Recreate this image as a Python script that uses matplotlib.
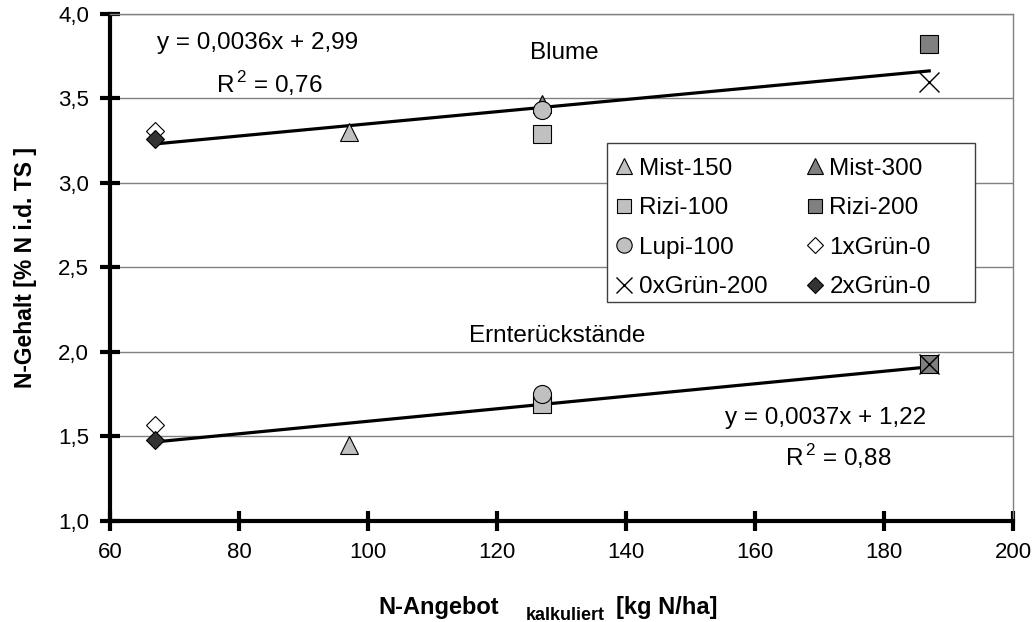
import numpy as np
import matplotlib.pyplot as plt
from matplotlib.lines import Line2D
from matplotlib.patches import Rectangle

plt.rcParams['font.family'] = ['Liberation Sans', 'DejaVu Sans']
plt.rcParams['mathtext.fontset'] = 'custom'
plt.rcParams['mathtext.rm'] = 'Liberation Sans'

# N-Angebot kalkuliert [kg N/ha] per variant
n_angebot = {
    'Mist-150': 97, 'Mist-300': 127, 'Rizi-100': 127, 'Rizi-200': 187,
    'Lupi-100': 127, '1xGrün-0': 67, '0xGrün-200': 187, '2xGrün-0': 67,
}
# N-Gehalt [% N i.d. TS]
blume = {
    'Mist-150': 3.30, 'Mist-300': 3.47, 'Rizi-100': 3.29, 'Rizi-200': 3.82,
    'Lupi-100': 3.43, '1xGrün-0': 3.31, '0xGrün-200': 3.60, '2xGrün-0': 3.26,
}
ernte = {
    'Mist-150': 1.45, 'Rizi-100': 1.69, 'Rizi-200': 1.93,
    'Lupi-100': 1.75, '1xGrün-0': 1.57, '0xGrün-200': 1.93, '2xGrün-0': 1.48,
}
# linear trends (slope, intercept)
trend_blume = (0.0036, 2.99)
trend_ernte = (0.0037, 1.22)

styles = {
    'Mist-150': dict(marker='^', color='#c0c0c0', ms=13),
    'Mist-300': dict(marker='^', color='#808080', ms=13),
    'Rizi-100': dict(marker='s', color='#c0c0c0', ms=12.5),
    'Rizi-200': dict(marker='s', color='#808080', ms=12.5),
    'Lupi-100': dict(marker='o', color='#c0c0c0', ms=13),
    '1xGrün-0': dict(marker='D', color='white', ms=9.5),
    '0xGrün-200': dict(marker='x', color='black', ms=14),
    '2xGrün-0': dict(marker='D', color='#333333', ms=9.5),
}

FS = 17.5

fig = plt.figure(figsize=(10.33, 6.22), dpi=100)
ax = fig.add_axes([0.1065, 0.1624, 0.8742, 0.8151])

ax.set_xlim(60, 200)
ax.set_ylim(1.0, 4.0)
ax.set_xticks(np.arange(60, 201, 20))
ax.set_yticks(np.arange(1.0, 4.01, 0.5))
ax.set_yticklabels([f'{v:.1f}'.replace('.', ',') for v in np.arange(1.0, 4.01, 0.5)])
ax.yaxis.grid(True, color='#808080', lw=1)
ax.set_axisbelow(True)

for s in ['top', 'right']:
    ax.spines[s].set_color('#808080')
    ax.spines[s].set_linewidth(1)
for s in ['left', 'bottom']:
    ax.spines[s].set_linewidth(3)
ax.tick_params(direction='inout', length=14, width=3, labelsize=16, pad=8)

for k, (m, b) in zip([blume, ernte], [trend_blume, trend_ernte]):
    xs = np.array([min(n_angebot[n] for n in k), max(n_angebot[n] for n in k)])
    ax.plot(xs, m * xs + b, color='black', lw=2.3, zorder=2)

def draw(data):
    for name, val in data.items():
        st = styles[name]
        if st['marker'] == 'x':
            ax.plot(n_angebot[name], val, linestyle='none', marker='x', color='black',
                    ms=st['ms'], mew=1, zorder=3)
        else:
            ax.plot(n_angebot[name], val, linestyle='none', marker=st['marker'],
                    mfc=st['color'], mec='black', mew=0.8, ms=st['ms'], zorder=3)

draw(blume)
draw(ernte)

# legend box (fixed size, white, thin dark outline)
ax.add_patch(Rectangle((0.5504, 0.432), 0.4076, 0.3136, transform=ax.transAxes,
                       facecolor='white', edgecolor='#404040', lw=1, zorder=4))

handles = []
for name in ['Mist-150', 'Rizi-100', 'Lupi-100', '0xGrün-200',
             'Mist-300', 'Rizi-200', '1xGrün-0', '2xGrün-0']:
    st = styles[name]
    if st['marker'] == 'x':
        h = Line2D([], [], linestyle='none', marker='x', color='black', ms=12, mew=1, label=name)
    else:
        h = Line2D([], [], linestyle='none', marker=st['marker'], mfc=st['color'],
                   mec='black', mew=0.8, ms=st['ms'] * 0.85, label=name)
    handles.append(h)
leg = ax.legend(handles=handles, ncol=2, loc='upper left', bbox_to_anchor=(0.5504, 0.733),
                borderaxespad=0, fontsize=FS, frameon=False,
                handlelength=0.7, handletextpad=0.25, columnspacing=1.6,
                labelspacing=0.72, borderpad=0.35)
leg.set_zorder(5)

ax.text(82.9, 3.83, 'y = 0,0036x + 2,99', fontsize=FS, ha='center', va='center')
ax.text(84.7, 3.59, 'R$^{\\,2}$ = 0,76', fontsize=FS, ha='center', va='center')
ax.text(130.4, 3.77, 'Blume', fontsize=FS, ha='center', va='center')
ax.text(129.3, 2.095, 'Ernterückstände', fontsize=FS, ha='center', va='center')
ax.text(170.9, 1.61, 'y = 0,0037x + 1,22', fontsize=FS, ha='center', va='center')
ax.text(172.9, 1.38, 'R$^{\\,2}$ = 0,88', fontsize=FS, ha='center', va='center')

ax.set_ylabel('N-Gehalt [% N i.d. TS ]', fontsize=16.5, fontweight='bold', labelpad=15)

fig.text(0.483, 0.024, 'N-Angebot', fontsize=17, fontweight='bold', ha='right', va='center')
fig.text(0.547, 0.011, 'kalkuliert', fontsize=13, fontweight='bold', ha='center', va='center')
fig.text(0.596, 0.024, '[kg N/ha]', fontsize=17, fontweight='bold', ha='left', va='center')

fig.savefig('out.png', dpi=100)
